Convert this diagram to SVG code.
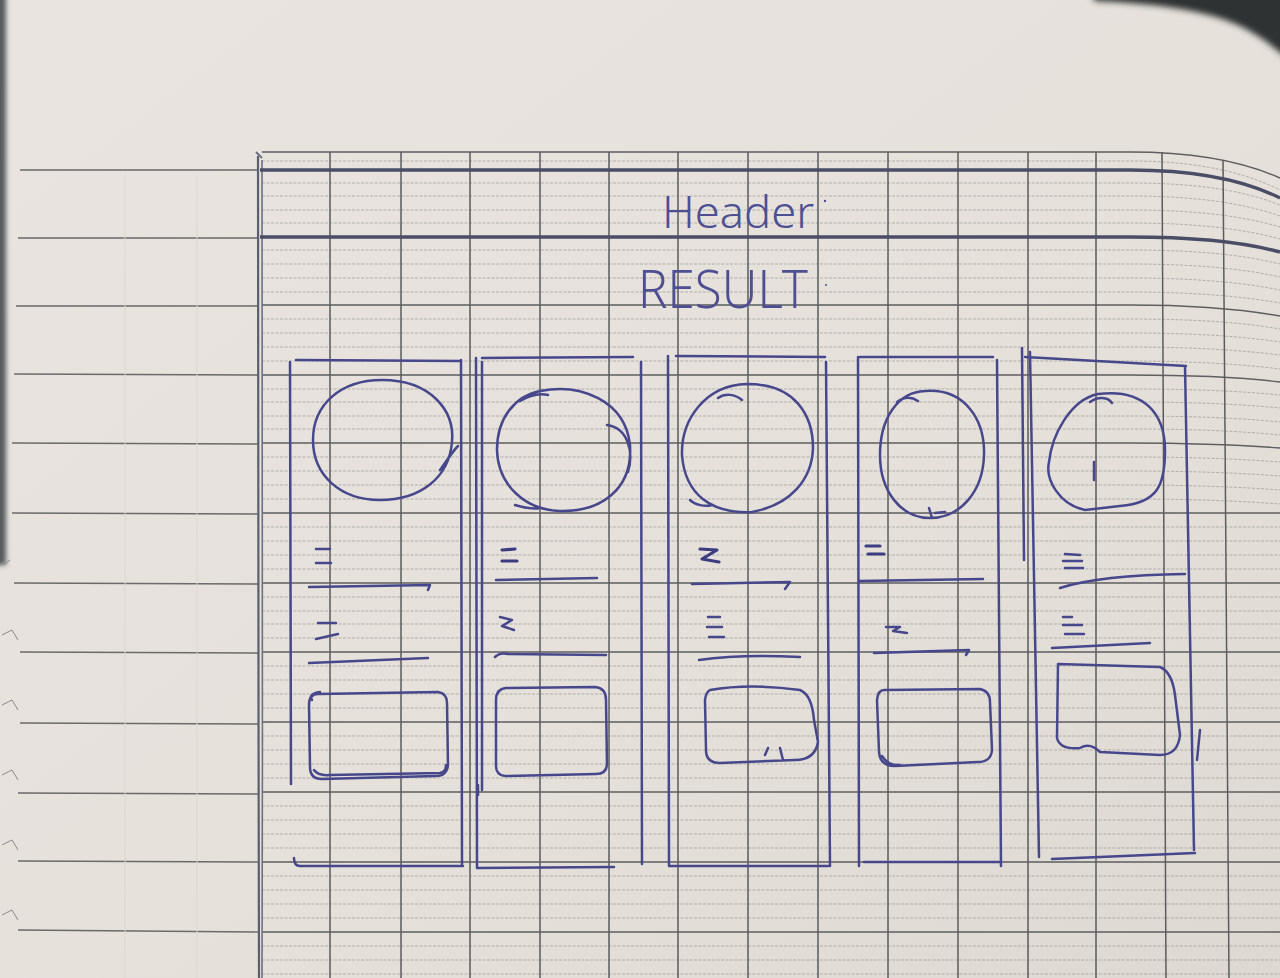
<svg xmlns="http://www.w3.org/2000/svg" width="1280" height="978" viewBox="0 0 1280 978">
<defs>
<linearGradient id="paper" x1="0" y1="0" x2="1" y2="1">
<stop offset="0" stop-color="#e9e4df"/>
<stop offset="0.6" stop-color="#e5e0da"/>
<stop offset="1" stop-color="#ddd8d2"/>
</linearGradient>
<filter id="blur" x="-20%" y="-20%" width="140%" height="140%"><feGaussianBlur stdDeviation="3"/></filter>
<filter id="blur2" x="-200%" y="-5%" width="500%" height="110%"><feGaussianBlur stdDeviation="2.5"/></filter>
<filter id="soft"><feGaussianBlur stdDeviation="0.45"/></filter>
<style>
.minor{fill:none;stroke:#a7a4a1;stroke-width:0.85;stroke-dasharray:3 1.5}
.major{fill:none;stroke:#5e5e60;stroke-width:1.4}
.vline{fill:none;stroke:#5c5c5e;stroke-width:1.5}
.thick{fill:none;stroke:#4a4d66;stroke-width:3.4}
.lpage{fill:none;stroke:#6a6a6a;stroke-width:1.3}
.ink{fill:none;stroke:#47478c;stroke-width:2.5;stroke-linecap:round;stroke-linejoin:round}
.inkb{fill:none;stroke:#3c3c80;stroke-width:3.2;stroke-linecap:round;stroke-linejoin:round}
.hand{font-family:"Noto Sans","DejaVu Sans",sans-serif;font-weight:300;fill:#4e4e92}
</style>
</defs>

<!-- paper -->
<rect x="0" y="0" width="1280" height="978" fill="url(#paper)"/>
<g id="page-edges">
<rect x="-6" y="-10" width="12" height="575" fill="#555a5b" filter="url(#blur2)"/>
<path d="M1090,-10 L1095,1 C1165,4 1212,12 1242,27 C1260,36 1272,46 1290,60 L1290,-10 Z" fill="#2e3232" filter="url(#blur)"/>
<path d="M4,565 L10,560 M2,635 L12,630 L18,640 M2,705 L12,700 L18,710 M2,775 L12,770 L18,780 M2,845 L12,840 L18,850 M2,915 L12,910 L18,920" fill="none" stroke="#8a8a8a" stroke-width="1"/>
</g>

<!-- left page (under) -->
<g id="left-page">
<path class="lpage" d="M20,170 L258,170 M18,238 L258,238 M16,306 L258,306 M14,374 L258,375 M12,443 L258,444 M12,513 L258,514 M14,583 L258,584 M20,652 L258,653 M20,723 L258,724 M18,793 L258,794 M18,861 L258,862 M18,930 L258,932"/>
<path d="M125,175 L125,978 M197,175 L197,978" fill="none" stroke="#dcd7d1" stroke-width="1"/>
</g>

<!-- main page grid -->
<g id="grid" filter="url(#soft)">
<g id="minor-lines">
<path class="minor" d="M262,161 H1130 C1190,161 1240,170 1280,190"/>
<path class="minor" d="M262,183 H1130 C1190,183 1240,189 1280,205"/>
<path class="minor" d="M262,196 H1130 C1190,196 1240,202 1280,216"/>
<path class="minor" d="M262,210 H1130 C1190,210 1240,215 1280,227"/>
<path class="minor" d="M262,223 H1130 C1190,223 1240,228 1280,239"/>
<path class="minor" d="M262,250 H1130 C1190,250 1240,254 1280,264"/>
<path class="minor" d="M262,264 H1130 C1190,264 1240,268 1280,277"/>
<path class="minor" d="M262,278 H1130 C1190,278 1240,282 1280,290"/>
<path class="minor" d="M262,292 H1130 C1190,292 1240,296 1280,303"/>
<path class="minor" d="M262,319 H1130 C1190,319 1240,322 1280,329"/>
<path class="minor" d="M262,333 H1130 C1190,333 1240,336 1280,342"/>
<path class="minor" d="M262,347 H1130 C1190,347 1240,350 1280,355"/>
<path class="minor" d="M262,361 H1130 C1190,361 1240,364 1280,369"/>
<path class="minor" d="M262,389 H1130 C1190,389 1240,391 1280,395"/>
<path class="minor" d="M262,402 H1130 C1190,402 1240,404 1280,408"/>
<path class="minor" d="M262,416 H1130 C1190,416 1240,418 1280,422"/>
<path class="minor" d="M262,429 H1130 C1190,429 1240,431 1280,435"/>
<path class="minor" d="M262,457 H1130 C1190,457 1240,459 1280,462"/>
<path class="minor" d="M262,471 H1130 C1190,471 1240,473 1280,476"/>
<path class="minor" d="M262,485 H1130 C1190,485 1240,487 1280,490"/>
<path class="minor" d="M262,499 H1130 C1190,499 1240,501 1280,504"/>
<path class="minor" d="M262,527 H1280"/>
<path class="minor" d="M262,541 H1280"/>
<path class="minor" d="M262,555 H1280"/>
<path class="minor" d="M262,569 H1280"/>
<path class="minor" d="M262,597 H1280"/>
<path class="minor" d="M262,611 H1280"/>
<path class="minor" d="M262,624 H1280"/>
<path class="minor" d="M262,638 H1280"/>
<path class="minor" d="M262,666 H1280"/>
<path class="minor" d="M262,680 H1280"/>
<path class="minor" d="M262,694 H1280"/>
<path class="minor" d="M262,708 H1280"/>
<path class="minor" d="M262,736 H1280"/>
<path class="minor" d="M262,750 H1280"/>
<path class="minor" d="M262,764 H1280"/>
<path class="minor" d="M262,778 H1280"/>
<path class="minor" d="M262,806 H1280"/>
<path class="minor" d="M262,820 H1280"/>
<path class="minor" d="M262,834 H1280"/>
<path class="minor" d="M262,848 H1280"/>
<path class="minor" d="M262,876 H1280"/>
<path class="minor" d="M262,890 H1280"/>
<path class="minor" d="M262,904 H1280"/>
<path class="minor" d="M262,918 H1280"/>
<path class="minor" d="M262,946 H1280"/>
<path class="minor" d="M262,960 H1280"/>
<path class="minor" d="M262,974 H1280"/>
</g>
<g id="major-lines">
<path class="major" d="M262,152 H1130 C1190,152 1240,160 1280,178"/>
<path class="major" d="M262,305 H1130 C1190,305 1240,309 1280,316"/>
<path class="major" d="M262,375 H1130 C1190,375 1240,377 1280,382"/>
<path class="major" d="M262,443 H1130 C1190,443 1240,445 1280,448"/>
<path class="major" d="M262,513 H1280"/>
<path class="major" d="M262,583 H1280"/>
<path class="major" d="M262,652 H1280"/>
<path class="major" d="M262,722 H1280"/>
<path class="major" d="M262,792 H1280"/>
<path class="major" d="M262,862 H1280"/>
<path class="major" d="M262,932 H1280"/>
</g>
<g id="vertical-lines">
<path class="vline" d="M330,152 V978 M401,152 V978 M470,152 V978 M540,152 V978 M609,152 V978 M678,152 V978 M748,152 V978 M818,152 V978 M888,152 V978 M958,152 V978 M1028,152 V978 M1096,152 V978"/>
<path class="vline" d="M1162,152 C1163,300 1164,600 1166,978 M1223,160 C1224,300 1226,600 1229,978"/>
</g>
<g id="margin-line">
<path d="M258,156 C259,400 258,700 259,978" fill="none" stroke="#5a5f6e" stroke-width="2.2"/>
<path d="M262,160 C262,400 263,700 262,978" fill="none" stroke="#6b7080" stroke-width="1.6"/>
<path d="M256,152 L262,158" fill="none" stroke="#6b7080" stroke-width="2"/>
</g>
<g id="header-rules">
<path class="thick" d="M260,170 H1130 C1190,170 1240,178 1280,198"/>
<path class="thick" d="M260,237 H1130 C1190,237 1240,241 1280,252"/>
</g>
</g>

<!-- titles -->
<g id="header">
<text class="hand" x="662" y="228" font-size="44" textLength="152" lengthAdjust="spacingAndGlyphs">Header</text>
<circle cx="825" cy="201" r="1.2" fill="#4e4e92"/>
</g>
<g id="result">
<text class="hand" x="638" y="308" font-size="53" textLength="170" lengthAdjust="spacingAndGlyphs">RESULT</text>
<circle cx="826" cy="285" r="1" fill="#4e4e92"/>
</g>

<!-- card 1 -->
<g id="card-1">
<path class="ink" d="M296,360 L461,361 M461,360 L462,866 M290,362 L291,784 M294,858 Q294,866 300,866 L463,866"/>
<path class="ink" d="M382,380 C430,380 455,410 452,442 C449,478 420,500 380,500 C340,500 313,475 313,440 C313,405 340,380 382,380 Z M440,470 C446,462 452,452 458,446"/>
<path class="ink" d="M316,549 H330 M316,563 H331 M309,587 L430,585 L428,590 M318,623 H336 M316,639 L338,634 M309,663 L428,658"/>
<path class="ink" d="M318,694 L438,692 Q447,693 447,703 L448,765 Q447,776 436,776 L322,779 Q310,779 310,767 L309,705 Q309,694 318,694 Z"/>
<path class="ink" d="M312,700 Q308,694 320,692 M314,770 Q318,776 330,775 L440,773 Q446,772 446,765"/>
</g>

<!-- card 2 -->
<g id="card-2">
<path class="ink" d="M482,358 L633,357 M641,362 L642,864 M476,358 L477,868 L614,867 M482,362 L482,790 M478,795 L478,785"/>
<path class="ink" d="M540,391 C580,383 625,400 630,445 C633,490 600,512 560,511 C525,510 498,485 497,450 C497,418 515,396 540,391 Z M607,425 C628,428 634,452 628,472 M520,401 C530,395 540,393 548,395 M515,505 C525,508 535,509 540,508"/>
<path class="inkb" d="M502,550 L515,549 M502,561 L517,561"/>
<path class="ink" d="M496,580 L597,578 M500,617 L512,620 L502,626 L514,630 M495,657 Q500,652 508,654 L606,655"/>
<path class="ink" d="M506,688 L595,687 Q606,688 606,700 L607,765 Q606,774 596,774 L505,776 Q496,775 496,766 L496,700 Q496,689 506,688 Z"/>
</g>

<!-- card 3 -->
<g id="card-3">
<path class="ink" d="M668,356 L669,866 L828,866 M676,356 L825,357 M826,362 L830,866"/>
<path class="ink" d="M747,384 C795,384 813,415 813,448 C812,480 790,505 752,512 C712,514 685,495 682,455 C681,420 705,385 747,384 Z M718,398 C725,393 735,394 742,400 M690,500 C695,505 705,507 712,505"/>
<path class="inkb" d="M700,549 L717,550 L702,559 L719,562"/>
<path class="ink" d="M692,584 L790,582 L785,589 M708,617 L720,617 M707,627 L722,627 M709,637 L724,637 M699,660 Q740,654 800,657"/>
<path class="ink" d="M710,690 Q750,683 800,690 Q812,695 814,720 L818,742 Q815,760 795,760 L720,763 Q706,763 706,750 L705,700 Q706,692 710,690 Z M765,755 L768,748 M783,760 L780,748"/>
</g>

<!-- card 4 -->
<g id="card-4">
<path class="ink" d="M860,357 L993,357 M858,357 L859,866 M997,360 L1001,866 M864,862 L1000,862"/>
<path class="ink" d="M925,391 C965,388 985,420 984,455 C983,492 960,518 930,518 C900,518 880,490 880,455 C880,418 898,392 925,391 Z M897,402 C905,396 912,397 918,401 M929,508 L932,518 M935,513 L945,512"/>
<path class="inkb" d="M866,546 L880,546 M868,554 L884,554"/>
<path class="ink" d="M859,581 L983,579 M886,627 L900,627 L893,631 L907,633 M874,653 L969,650 L966,655"/>
<path class="ink" d="M884,690 L980,689 Q990,691 990,702 L992,750 Q991,762 978,762 L895,766 Q880,766 879,752 L877,700 Q878,690 884,690 Z M882,756 Q888,766 900,765"/>
</g>

<!-- card 5 -->
<g id="card-5">
<path class="ink" d="M1022,348 L1024,560 M1030,352 L1039,857 M1025,357 L1186,366 M1185,366 L1194,850 M1200,730 L1197,760 M1052,859 L1195,853"/>
<path class="ink" d="M1098,394 C1145,388 1165,415 1165,450 C1165,485 1158,503 1120,506 L1085,510 C1060,505 1045,480 1049,462 C1052,435 1070,400 1098,394 Z M1090,402 C1098,396 1108,397 1112,403"/>
<path class="ink" d="M1094,462 L1094,480" stroke="#6f6f80" stroke-width="2"/>
<path class="ink" d="M1065,554 L1080,555 M1063,561 L1082,561 M1065,568 L1083,568 M1060,588 Q1100,575 1185,574 M1063,617 L1072,617 M1063,625 L1082,625 M1065,634 L1084,634 M1052,648 L1150,643"/>
<path class="ink" d="M1058,664 L1160,667 Q1172,672 1175,695 L1180,735 Q1178,755 1160,755 L1100,752 Q1090,742 1080,748 Q1060,750 1057,738 L1058,664 Z"/>
</g>
</svg>
